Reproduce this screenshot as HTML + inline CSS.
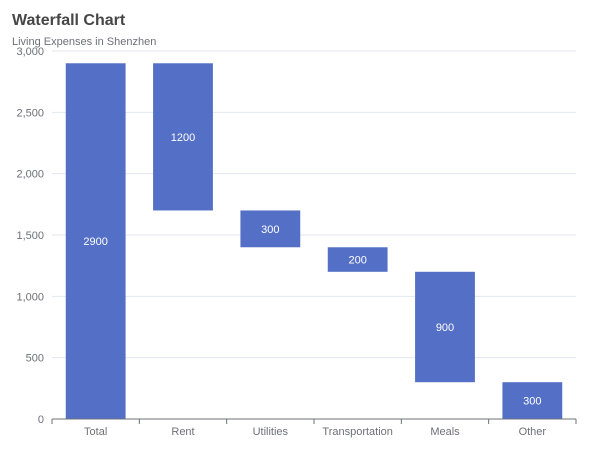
<!DOCTYPE html>
<html><head><meta charset="utf-8"><style>
html,body{margin:0;padding:0;background:#fff;}
svg{display:block;font-family:"Liberation Sans",sans-serif;}
</style></head><body>
<svg id="chart" width="600" height="450">
<text x="12" y="25" font-size="16" font-weight="bold" fill="#464646">Waterfall Chart</text>
<text x="12" y="45" font-size="11" fill="#6e7079">Living Expenses in Shenzhen</text>
<g id="grid"></g><g id="bars"></g><g id="axes"></g>
</svg>
<script>
const categories=['Total','Rent','Utilities','Transportation','Meals','Other'];
const baseValues=[0,1700,1400,1200,300,0];
const barValues=[2900,1200,300,200,900,300];
const yTicks=[0,500,1000,1500,2000,2500,3000];
const yTickLabels=['0','500','1,000','1,500','2,000','2,500','3,000'];
const NS='http://www.w3.org/2000/svg';
const L=52,R=576,T=51,B=419,yMax=3000;
const y=v=>B-(v/yMax)*(B-T);
const bw=(R-L)/categories.length;
const x=i=>L+bw*i;
function mk(tag,attrs,parent){const e=document.createElementNS(NS,tag);for(const k in attrs)e.setAttribute(k,attrs[k]);document.getElementById(parent).appendChild(e);return e;}
yTicks.forEach((t,i)=>{
  if(t>0){const g=mk('line',{x1:L,x2:R,y1:y(t),y2:y(t),stroke:'#e0e6f1','stroke-width':1},'grid');
  
  }
  const tx=mk('text',{x:L-8,y:y(t)+4,'font-size':11,fill:'#6e7079','text-anchor':'end'},'axes');
  tx.textContent=yTickLabels[i];
  
  
});
const ax=mk('line',{x1:L,x2:R,y1:B,y2:B,stroke:'#6e7079','stroke-width':1},'axes');


for(let i=0;i<=categories.length;i++){
  const tk=mk('line',{x1:x(i),x2:x(i),y1:B,y2:B+5,stroke:'#6e7079'},'axes');
  
  
}
categories.forEach((c,i)=>{
  const cx=x(i)+bw/2,w=bw*0.685;
  const top=y(baseValues[i]+barValues[i]),bot=y(baseValues[i]);
  const r=mk('rect',{x:cx-w/2,y:top,width:w,height:bot-top,fill:'#5470c6'},'bars');
  
  
  const lt=mk('text',{x:cx,y:(top+bot)/2+4,'font-size':11,fill:'#fff','text-anchor':'middle'},'bars');
  lt.textContent=barValues[i];
  
  
  const xl=mk('text',{x:cx,y:B+16,'font-size':11,fill:'#6e7079','text-anchor':'middle'},'axes');
  xl.textContent=c;
  
  
});
</script>
</body></html>
